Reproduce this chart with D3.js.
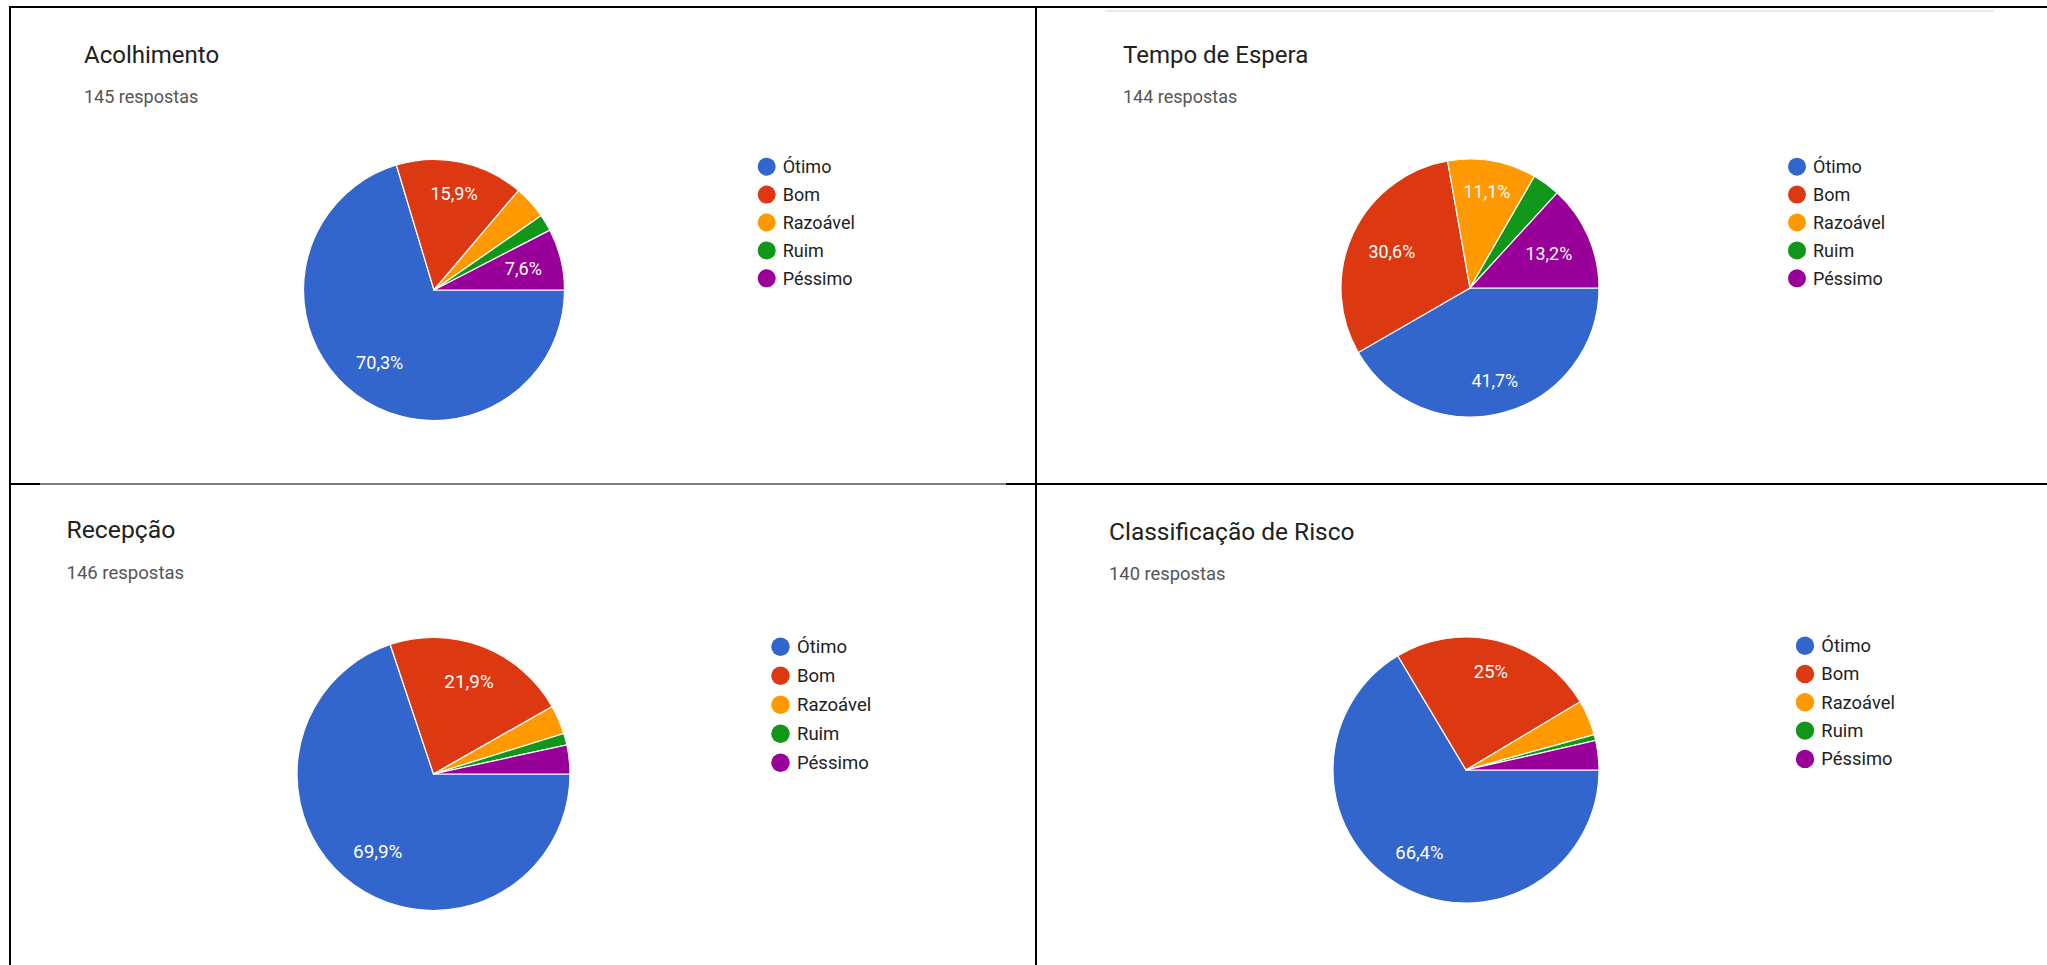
<!DOCTYPE html>
<html>
<head>
<meta charset="utf-8">
<script src="https://cdn.jsdelivr.net/npm/d3@7"></script>
<style>
  html, body { margin: 0; padding: 0; background: #fff; }
  svg { display: block; font-family: Roboto, Arial, sans-serif; }
</style>
</head>
<body>
<svg id="chart" width="2047" height="965"></svg>
<script>
// categories and answers
const categories = ["Ótimo", "Bom", "Razoável", "Ruim", "Péssimo"];
const titles = ["Acolhimento", "Tempo de Espera", "Recepção", "Classificação de Risco"];
const responses = [145, 144, 146, 140];
const acolhimento = [102, 23, 6, 3, 11];
const tempoEspera = [60, 44, 16, 5, 19];
const recepcao = [102, 32, 5, 2, 5];
const classificacao = [93, 35, 6, 1, 5];

const colours = ["#3366cc", "#dc3912", "#ff9900", "#109618", "#990099"];

// where each of the four screenshots sits
const panels = [
    { values: acolhimento,   cx: 434,  cy: 290, r: 130.5, tx: 84,   ty: 63,  sy: 103, lx: 766.7, ly: 166.7, step: 27.9, s: 1 },
    { values: tempoEspera,   cx: 1470, cy: 288, r: 129,   tx: 1123, ty: 63,  sy: 103, lx: 1797,  ly: 166.7, step: 27.9, s: 1 },
    { values: recepcao,      cx: 433.5, cy: 774, r: 136.5, tx: 66.5, ty: 538, sy: 579, lx: 780.5, ly: 646.7, step: 29, s: 1.03 },
    { values: classificacao, cx: 1466, cy: 770, r: 133,   tx: 1109, ty: 540, sy: 580, lx: 1805,  ly: 645.7, step: 28.3, s: 1.02 }
];

const svg = d3.select("#chart");

// table frame round the screenshots
const frame = svg.append("g").attr("stroke", "#000").attr("fill", "none");
frame.append("line").attr("x1", 9).attr("x2", 2047).attr("y1", 7).attr("y2", 7).attr("stroke-width", 2);
frame.append("line").attr("x1", 10).attr("x2", 10).attr("y1", 6).attr("y2", 965).attr("stroke-width", 2);
frame.append("line").attr("x1", 1036).attr("x2", 1036).attr("y1", 6).attr("y2", 965).attr("stroke-width", 2);
frame.append("line").attr("x1", 10).attr("x2", 40).attr("y1", 484).attr("y2", 484).attr("stroke-width", 2);
frame.append("line").attr("x1", 40).attr("x2", 1006).attr("y1", 484).attr("y2", 484).attr("stroke-width", 1.2);
frame.append("line").attr("x1", 1006).attr("x2", 2047).attr("y1", 484).attr("y2", 484).attr("stroke-width", 2);
svg.append("line").attr("x1", 1105).attr("x2", 1994).attr("y1", 11).attr("y2", 11)
    .attr("stroke", "#e3e3e3").attr("stroke-width", 1.5);

const colour = d3.scaleOrdinal().domain(categories).range(colours);
const fmt = v => d3.format(".1f")(v).replace(/\.0$/, "").replace(".", ",") + "%";

panels.forEach((p, i) => {
    const g = svg.append("g");
    const total = d3.sum(p.values);
    const items = categories.map((c, k) => ({ key: c, value: p.values[k] }));

    g.append("text")
        .attr("x", p.tx).attr("y", p.ty)
        .attr("font-size", 24 * p.s).attr("fill", "#212121")
        .text(titles[i]);
    g.append("text")
        .attr("x", p.tx).attr("y", p.sy)
        .attr("font-size", 18 * p.s).attr("fill", "#555")
        .text(`${responses[i]} respostas`);

    // slices start at 3 o'clock and run clockwise, like the Forms charts
    const pie = d3.pie().value(d => d.value).sort(null)
        .startAngle(Math.PI / 2).endAngle(Math.PI / 2 + 2 * Math.PI);
    const arc = d3.arc().innerRadius(0).outerRadius(p.r);
    const arcs = pie(items);

    const pg = g.append("g").attr("transform", `translate(${p.cx},${p.cy})`);
    pg.selectAll("path")
        .data(arcs)
        .enter()
        .append("path")
        .attr("d", arc)
        .attr("fill", d => colour(d.data.key))
        .attr("stroke", "#fff")
        .attr("stroke-width", 1.2);

    // labels: far corner of the text box sits at ~0.855 r
    const fs = 18 * p.r / 130;
    pg.selectAll(".slice-label")
        .data(arcs.filter(d => d.data.value / total >= 0.05))
        .enter()
        .append("text")
        .attr("class", "slice-label")
        .attr("font-size", fs)
        .attr("fill", "#fff")
        .attr("text-anchor", "middle")
        .attr("dy", "0.35em")
        .text(d => fmt(d.data.value / total * 100))
        .each(function(d) {
            const w = this.getComputedTextLength();
            const h = fs * 0.75;
            const mid = (d.startAngle + d.endAngle) / 2;
            const ux = Math.sin(mid), uy = -Math.cos(mid);
            const a = Math.sign(ux) * w / 2, b = Math.sign(uy) * h / 2;
            const R = 0.855 * p.r;
            const q = ux * a + uy * b;
            const dist = -q + Math.sqrt(q * q - (a * a + b * b - R * R));
            d3.select(this).attr("x", dist * ux).attr("y", dist * uy);
        });

    const lg = g.append("g").attr("transform", `translate(${p.lx},${p.ly})`);
    const rows = lg.selectAll("g")
        .data(categories)
        .enter()
        .append("g")
        .attr("transform", (c, k) => `translate(0,${k * p.step})`);
    rows.append("circle").attr("r", 9 * p.s).attr("fill", c => colour(c));
    rows.append("text")
        .attr("x", 16 * p.s)
        .attr("dy", "0.35em")
        .attr("font-size", 18 * p.s)
        .attr("fill", "#222")
        .text(c => c);
});
</script>
</body>
</html>
